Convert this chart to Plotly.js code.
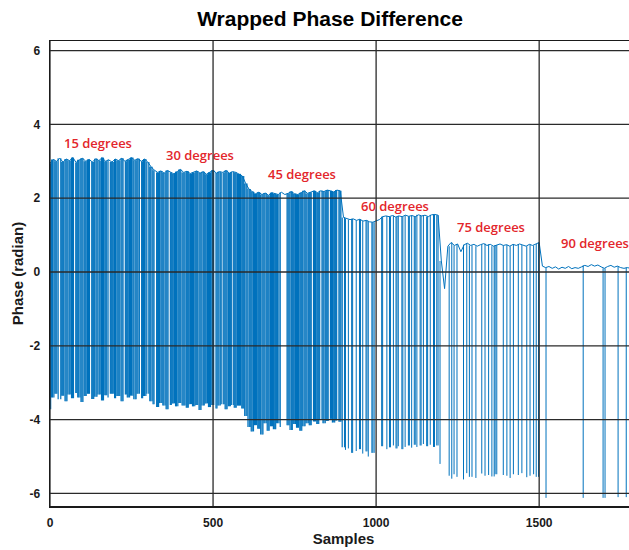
<!DOCTYPE html>
<html>
<head>
<meta charset="utf-8">
<script src="https://cdn.plot.ly/plotly-3.0.1.min.js"></script>
<style>
  html, body { margin: 0; padding: 0; overflow: hidden; background: #ffffff; }
  #chart { width: 640px; height: 550px; }
</style>
</head>
<body>
<div id="chart"></div>
<script>
// Wrapped phase difference of a two-channel recording, six steering angles.

// Upper phase branch, one value every TOP_STEP samples.
const TOP_STEP = 10;
const topPhase = [
  2.95, 3.05, 3.0, 3.08, 2.98, 3.06, 3.02, 3.1, 2.97, 3.04,
  3.08, 3.0, 3.05, 2.98, 3.07, 3.02, 3.1, 3.0, 3.04, 2.98,
  3.06, 3.02, 3.08, 3.0, 3.05, 3.1, 3.03, 3.07, 3.0, 3.06,
  2.98, 2.85, 2.76, 2.7, 2.74, 2.68, 2.75, 2.7, 2.66, 2.72,
  2.78, 2.7, 2.73, 2.67, 2.7, 2.74, 2.68, 2.72, 2.65, 2.7,
  2.76, 2.68, 2.72, 2.7, 2.75, 2.68, 2.72, 2.7, 2.66, 2.6,
  2.4, 2.25, 2.18, 2.12, 2.16, 2.1, 2.14, 2.08, 2.15, 2.12,
  2.1, 2.16, 2.1, 2.13, 2.18, 2.12, 2.1, 2.15, 2.2, 2.13,
  2.16, 2.2, 2.15, 2.2, 2.18, 2.22, 2.2, 2.17, 2.22, 2.2,
  1.48, 1.45, 1.42, 1.44, 1.4, 1.43, 1.38, 1.4, 1.36, 1.35,
  1.38, 1.42, 1.5, 1.52, 1.5, 1.53, 1.49, 1.52, 1.5, 1.54,
  1.51, 1.53, 1.5, 1.55, 1.52, 1.54, 1.5, 1.55, 1.56, 1.54,
  0.3, -0.45, 0.7, 0.8, 0.72, 0.76, 0.55, 0.74, 0.78, 0.72,
  0.75, 0.7, 0.74, 0.77, 0.72, 0.75, 0.7, 0.73, 0.76, 0.72,
  0.74, 0.7, 0.75, 0.72, 0.76, 0.73, 0.7, 0.75, 0.72, 0.76,
  0.8, 0.16, 0.12, 0.15, 0.1, 0.14, 0.08, 0.13, 0.1, 0.15,
  0.09, 0.12, 0.1, 0.14, 0.18, 0.15, 0.2, 0.16, 0.19, 0.14,
  0.1, 0.15, 0.18, 0.13, 0.16, 0.12, 0.1, 0.12, 0.1
];

// Lower (wrapped) phase branch, one value every BOTTOM_STEP samples.
const BOTTOM_STEP = 10;
const bottomPhase = [
  -3.72, -3.4, -3.3, -3.45, -3.35, -3.5, -3.32, -3.42, -3.28, -3.4,
  -3.52, -3.36, -3.3, -3.44, -3.38, -3.32, -3.48, -3.34, -3.4, -3.3,
  -3.42, -3.36, -3.5, -3.32, -3.4, -3.35, -3.45, -3.3, -3.42, -3.36,
  -3.3, -3.5, -3.58, -3.66, -3.55, -3.62, -3.72, -3.6, -3.56, -3.64,
  -3.55, -3.62, -3.68, -3.58, -3.64, -3.6, -3.74, -3.62, -3.56, -3.66,
  -3.6, -3.7, -3.62, -3.58, -3.72, -3.64, -3.6, -3.68, -3.62, -3.7,
  -3.9, -4.2, -4.32, -4.15, -4.25, -4.4, -4.1, -4.3, -4.18, -4.26,
  -4.1, -4.2, -4.3, -4.15, -4.28, -4.12, -4.22, -4.3, -4.18, -4.1,
  -4.15, -4.05, -4.12, -4.0, -4.1, -4.04, -3.98, -4.08, -4.02, -4.06,
  -4.75, -4.82, -4.78, -4.9, -4.85, -4.8, -4.92, -4.86, -5.0, -4.9,
  -4.95, -4.85, -4.72, -4.8, -4.75, -4.7, -4.78, -4.72, -4.8, -4.74,
  -4.7, -4.76, -4.68, -4.74, -4.7, -4.66, -4.72, -4.68, -4.74, -4.7,
  -5.2, -5.4, -5.52, -5.6, -5.48, -5.55, -5.5, -5.62, -5.45, -5.55,
  -5.5, -5.58, -5.46, -5.52, -5.6, -5.5, -5.54, -5.48, -5.56, -5.5,
  -5.52, -5.58, -5.48, -5.55, -5.5, -5.45, -5.56, -5.52, -5.48, -5.55,
  -5.55, -6.1, -6.12, -6.14, -6.1, -6.12, -6.15, -6.1, -6.12, -6.14,
  -6.1, -6.12, -6.15, -6.1, -6.12, -6.14, -6.1, -6.12, -6.15, -6.1,
  -6.12, -6.1, -6.14, -6.12, -6.1, -6.15, -6.12, -6.1, -6.12
];

// Sample indices where the phase wraps to the lower branch, per angle.
const wraps15 = [2, 5, 8, 12, 15, 18, 21, 25, 33, 36, 39, 42, 46, 49, 52, 55, 59, 62, 66, 69,
  72, 79, 82, 85, 88, 92, 95, 98, 101, 105, 108, 111, 115, 118, 121, 128, 131, 134, 137, 141,
  144, 147, 151, 154, 158, 161, 164, 168, 171, 174, 178, 185, 188, 191, 194, 198, 201, 205, 208, 211,
  214, 218, 221, 224, 231, 234, 237, 240, 244, 247, 250, 254, 257, 261, 264, 267, 270, 274, 281, 284,
  287, 290, 294, 297];
const wraps30 = [303, 306, 309, 313, 316, 319, 327, 330, 333, 336, 340, 343, 346, 349, 353, 356, 359, 362,
  369, 372, 375, 378, 382, 385, 388, 392, 395, 398, 401, 405, 408, 411, 414, 418, 421, 424, 427, 431,
  434, 437, 440, 444, 447, 450, 453, 457, 460, 463, 466, 470, 473, 476, 479, 483, 486, 489, 492, 496,
  499, 502, 509, 512, 515, 518, 522, 525, 531, 534, 537, 540, 543, 547, 550, 553, 556, 562, 565, 568,
  571, 575, 578, 581, 584, 588, 591, 594, 597];
const wraps45 = [601, 604, 607, 611, 614, 617, 620, 624, 627, 630, 633, 637, 640, 643, 646, 650, 653, 656,
  659, 663, 666, 669, 672, 676, 679, 682, 685, 689, 692, 695, 698, 702, 706, 727, 730, 733, 736, 740,
  743, 746, 749, 753, 756, 759, 762, 766, 769, 772, 775, 779, 782, 785, 788, 792, 795, 798, 801, 808,
  811, 814, 818, 821, 824, 827, 834, 837, 840, 844, 847, 850, 853, 860, 863, 866, 870, 873, 876, 879,
  886, 889, 892, 896];
const wraps60 = [903, 906, 915, 925, 928, 939, 949, 952, 959, 969, 972, 976, 987, 990, 994, 1017, 1020,
  1033, 1041, 1044, 1053, 1061, 1064, 1068, 1079, 1082, 1089, 1099, 1102, 1109, 1117, 1120, 1125,
  1135, 1138, 1145, 1155, 1158, 1166, 1176, 1179, 1186, 1190, 1196];
const wraps75 = [1224, 1232, 1239, 1248, 1268, 1278, 1286, 1294, 1306, 1324, 1334, 1345, 1355, 1362,
  1365, 1370, 1390, 1401, 1411, 1421, 1436, 1447, 1462, 1472, 1483, 1491, 1498];
const wraps90 = [1521, 1635, 1696, 1702, 1742, 1767];

// Angle captions and where they sit (sample, phase).
const angleLabels = ['15 degrees', '30 degrees', '45 degrees', '60 degrees', '75 degrees', '90 degrees'];
const labelSample = [37, 350, 661, 949, 1243, 1560];
const labelPhase = [3.5, 3.17, 2.66, 1.79, 1.22, 0.8];

const xTicks = [0, 500, 1000, 1500];
const yTicks = [-6, -4, -2, 0, 2, 4, 6];

const BLUE = '#0072BD';

function levelAt(arr, step, s) {
  return arr[Math.min(arr.length - 1, Math.round(s / step))];
}

// Each wrap is drawn as a drop from the upper branch to the lower branch.
function wrapSegments(list) {
  const xs = [], ys = [];
  list.forEach(s => {
    xs.push(s, s, null);
    ys.push(levelAt(topPhase, TOP_STEP, s), levelAt(bottomPhase, BOTTOM_STEP, s), null);
  });
  return { xs, ys };
}

const topX = topPhase.map((_, i) => i * TOP_STEP);
const dense = wrapSegments([].concat(wraps15, wraps30, wraps45));
const sparse = wrapSegments([].concat(wraps60, wraps75, wraps90));

const traces = [
  { x: topX, y: topPhase, type: 'scatter', mode: 'lines',
    line: { color: BLUE, width: 1 }, hoverinfo: 'skip', showlegend: false },
  { x: dense.xs, y: dense.ys, type: 'scatter', mode: 'lines', connectgaps: false,
    line: { color: BLUE, width: 1.2 }, hoverinfo: 'skip', showlegend: false },
  { x: sparse.xs, y: sparse.ys, type: 'scatter', mode: 'lines', connectgaps: false,
    line: { color: BLUE, width: 1 }, hoverinfo: 'skip', showlegend: false }
];

const gridColor = '#2a2a2a';
const shapes = [];
xTicks.forEach(v => shapes.push({ type: 'line', xref: 'x', yref: 'paper', x0: v, x1: v, y0: 0, y1: 1,
  line: { color: gridColor, width: 1.3 }, layer: 'above' }));
yTicks.forEach(v => shapes.push({ type: 'line', xref: 'paper', yref: 'y', x0: 0, x1: 1, y0: v, y1: v,
  line: { color: gridColor, width: 1.3 }, layer: 'above' }));

const annotations = angleLabels.map((t, i) => ({
  x: labelSample[i], y: labelPhase[i], xref: 'x', yref: 'y', text: t, showarrow: false,
  xanchor: 'left', yanchor: 'middle',
  font: { family: 'Open Sans, sans-serif', size: 13, color: '#e3262b', weight: 600 }
}));

const axisFont = { family: 'Liberation Sans, Arial, sans-serif', size: 12, color: '#1a1a1a', weight: 'bold' };

const layout = {
  width: 640, height: 550,
  margin: { l: 50, r: 3, t: 41, b: 44 },
  paper_bgcolor: '#ffffff', plot_bgcolor: '#ffffff',
  title: {
    text: 'Wrapped Phase Difference',
    x: 330 / 640, xref: 'container', xanchor: 'center',
    y: 1 - 19 / 550, yref: 'container', yanchor: 'middle',
    font: { family: 'Liberation Sans, Arial, sans-serif', size: 21, color: '#000000', weight: 'bold' }
  },
  xaxis: {
    range: [0, 1800], tickvals: xTicks, ticktext: xTicks.map(String),
    showgrid: false, zeroline: false, ticks: '', ticklabelstandoff: 5,
    showline: true, mirror: true, linecolor: '#1a1a1a', linewidth: 1.5,
    tickfont: axisFont,
    title: { text: 'Samples', standoff: 3,
      font: { family: 'Liberation Sans, Arial, sans-serif', size: 15, color: '#1a1a1a', weight: 'bold' } }
  },
  yaxis: {
    range: [-6.34, 6.26], tickvals: yTicks, ticktext: yTicks.map(String),
    showgrid: false, zeroline: false, ticks: '', ticklabelstandoff: 6,
    showline: true, mirror: true, linecolor: '#1a1a1a', linewidth: 1.5,
    tickfont: axisFont,
    title: { text: 'Phase (radian)', standoff: 2,
      font: { family: 'Liberation Sans, Arial, sans-serif', size: 15, color: '#1a1a1a', weight: 'bold' } }
  },
  shapes: shapes,
  annotations: annotations
};

Plotly.newPlot('chart', traces, layout, { staticPlot: true, displayModeBar: false });
</script>
</body>
</html>
